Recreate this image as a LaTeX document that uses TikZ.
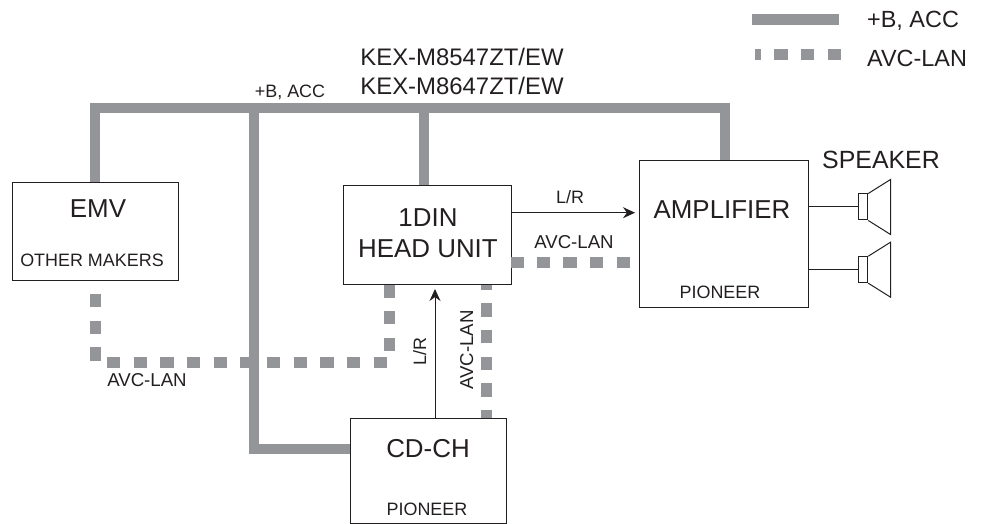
\documentclass[tikz,border=0pt]{standalone}
\usepackage{fontspec}
\setmainfont{Liberation Sans}
\usetikzlibrary{arrows.meta}

\definecolor{wiringgray}{RGB}{147,149,152}
\definecolor{wiringblack}{RGB}{35,31,32}

\newcommand{\bigtext}{\fontsize{26}{32}\selectfont}
\newcommand{\midtext}{\fontsize{24}{32}\selectfont}
\newcommand{\smalltext}{\fontsize{18}{22}\selectfont}
\newcommand{\lantext}{\fontsize{18.7}{22}\selectfont}

\tikzset{
  unitbox/.style={draw=wiringblack,line width=1bp,inner sep=0pt,anchor=north west},
  busline/.style={wiringgray,line width=10.5bp},
  lanline/.style={wiringgray,line width=11bp,dash pattern=on 13.33bp off 13.33bp},
  audioline/.style={wiringblack,line width=1bp},
  audioarrow/.style={audioline,-{Stealth[length=12bp,width=11bp]}},
  label/.style={text=wiringblack,anchor=base,inner sep=0pt},
}

\begin{document}
\begin{tikzpicture}[x=1bp,y=-1bp,font=\smalltext]
    \useasboundingbox (0,0) rectangle (987,524);

    % units
    \node[unitbox,minimum width=166bp,minimum height=98bp] (emv) at (11.5,182) {};
    \node[unitbox,minimum width=168.5bp,minimum height=98.5bp] (head) at (342.5,185) {};
    \node[unitbox,minimum width=168.5bp,minimum height=147bp] (amp) at (639,160) {};
    \node[unitbox,minimum width=156bp,minimum height=104.5bp] (cdch) at (350,418) {};

    \node[label,font=\bigtext] (emvname) at (98,217.7) {EMV};
    \node[label] (emvmaker) at (92,267) {OTHER MAKERS};
    \node[label,font=\bigtext,align=center] (headname) at (428,258) {1DIN\\HEAD UNIT};
    \node[label,font=\bigtext] (ampname) at (722,219) {AMPLIFIER};
    \node[label] (ampmaker) at (720,299) {PIONEER};
    \node[label,font=\bigtext] (cdchname) at (428,457) {CD-CH};
    \node[label] (cdchmaker) at (427,515) {PIONEER};

    % +B, ACC
    \coordinate (busl) at (95,108);
    \coordinate (busr) at (725,108);
    \coordinate (bustap) at (254,108);
    \coordinate (headtap) at (424,108);
    \coordinate (cdchtap) at (254,449);
    \draw[busline] (emv.north -| busl) -- (busl) -- (busr) -- (amp.north -| busr);
    \draw[busline] (bustap) -- (cdchtap) -- (cdchtap -| cdch.west);
    \draw[busline] (headtap) -- (head.north -| headtap);
    \node[label] (buslabel) at (290,97.7) {+B, ACC};

    % AVC-LAN
    \coordinate (lanl) at (95,294);
    \coordinate (lanlb) at (95,361);
    \coordinate (lanb) at (107,362);
    \coordinate (lanc) at (387,362);
    \coordinate (lanu) at (389,351);
    \coordinate (lanr) at (486,283.5);
    \coordinate (lanh) at (511,263);
    \draw[lanline] (lanl) -- (lanlb);
    \draw[lanline] (lanb) -- (lanc);
    \draw[lanline] (lanu) -- (lanu |- head.south);
    \draw[lanline,dash phase=5.33bp] (lanr |- cdch.north) -- (lanr |- head.south);
    \draw[lanline,dash phase=0.83bp] (lanh) -- (lanh -| amp.west);
    \node[label,font=\lantext] (lanlabela) at (147,387) {AVC-LAN};
    \node[label,font=\lantext] (lanlabelb) at (574,249) {AVC-LAN};
    \node[label,font=\lantext,rotate=90] (lanlabelc) at (473,350) {AVC-LAN};

    % L/R
    \coordinate (lrh) at (511,212.7);
    \coordinate (lrc) at (435,418);
    \draw[audioarrow,shorten >=4bp] (lrh) -- (lrh -| amp.west);
    \draw[audioarrow,shorten >=4.5bp] (lrc) -- (lrc |- head.south);
    \node[label] (lrlabela) at (570,204) {L/R};
    \node[label,rotate=90] (lrlabelb) at (426,352) {L/R};

    % speakers
    \foreach \k/\y in {a/207,b/269.7} {
      \node[draw=wiringblack,line width=1bp,inner sep=0pt,minimum width=9.5bp,minimum height=26bp] (mag\k) at (863,\y) {};
      \draw[audioline] (amp.east |- mag\k) -- (mag\k);
      \draw[audioline,line join=miter] (mag\k.north east) -- ++(22.3,-14) -- ++(0,55) -- (mag\k.south east);
    }
    \node[label,font=\fontsize{25}{30}\selectfont] (speakername) at (881,169) {SPEAKER};

    % legend
    \coordinate (legbus) at (752,19.5);
    \coordinate (leglan) at (755,55);
    \node[label,font=\fontsize{23.5}{28}\selectfont,anchor=base west] (legbuslabel) at (867,28) {+B, ACC};
    \node[label,font=\fontsize{23.5}{28}\selectfont,anchor=base west] (leglanlabel) at (867,66.7) {AVC-LAN};
    \draw[busline] (legbus) -- ++(87,0);
    \draw[lanline,dash phase=7.33bp] (leglan) -- ++(86,0);

    % model names
    \node[label,font=\midtext] (modela) at (462,65.7) {KEX-M8547ZT/EW};
    \node[label,font=\midtext] (modelb) at (462,94.3) {KEX-M8647ZT/EW};
\end{tikzpicture}
\end{document}
